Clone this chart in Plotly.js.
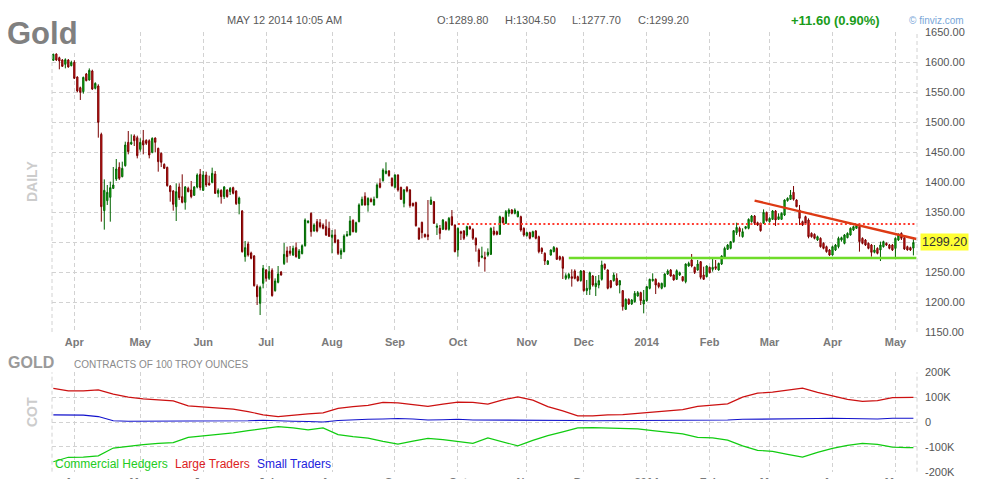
<!DOCTYPE html>
<html><head><meta charset="utf-8">
<script src="https://cdn.plot.ly/plotly-3.0.1.min.js"></script>
<style>html,body{margin:0;padding:0;background:#fff}#chart{width:988px;height:479px}</style>
</head><body><div id="chart"></div>
<script>
// ---- Daily OHLC (gold futures, ~Mar 20 2013 .. May 12 2014), one value per trading day ----
const openP = [
1602.8,1613.3,1607.2,1603.3,1596.1,1603.3,1593.9,1599.4,1575.0,1557.2,
1550.6,1580.0,1570.0,1585.0,1556.1,1560.0,1479.4,1352.2,1368.9,1374.4,
1389.4,1405.0,1424.4,1408.9,1427.2,1466.1,1463.3,1476.7,1473.9,1454.4,
1468.9,1469.4,1468.9,1449.4,1473.3,1456.1,1447.8,1429.4,1424.4,1393.3,
1385.0,1358.9,1391.7,1375.6,1366.1,1389.4,1386.7,1377.8,1391.7,1412.8,
1386.1,1411.7,1397.8,1399.4,1413.3,1381.1,1386.1,1375.6,1386.7,1383.9,
1390.6,1385.0,1363.9,1351.7,1275.6,1296.7,1281.7,1276.7,1226.1,1197.8,
1231.1,1253.3,1239.4,1252.8,1218.9,1232.8,1250.0,1263.9,1285.0,1285.0,
1278.3,1290.6,1272.8,1280.6,1293.9,1332.2,1347.8,1318.3,1333.9,1332.2,
1328.3,1325.6,1322.8,1307.8,1311.7,1303.3,1279.4,1283.9,1310.0,1311.7,
1336.1,1317.2,1333.9,1361.7,1376.1,1361.7,1371.1,1361.7,1373.9,1397.8,
1402.2,1414.4,1418.3,1406.1,1391.1,1411.7,1391.1,1364.4,1391.1,1386.7,
1364.4,1365.6,1322.8,1332.8,1312.8,1312.0,1362.8,1367.2,1324.4,1322.8,
1321.1,1332.8,1321.1,1342.2,1328.3,1286.7,1317.2,1318.3,1311.7,1325.6,
1321.1,1306.1,1286.7,1274.4,1274.4,1278.3,1279.4,1318.3,1317.2,1312.8,
1340.6,1331.1,1347.8,1353.3,1347.8,1342.2,1342.2,1322.8,1310.6,1315.6,
1308.9,1318.3,1308.9,1289.4,1281.1,1262.8,1278.3,1283.9,1289.4,1275.6,
1274.4,1239.4,1240.6,1242.2,1251.7,1242.2,1235.6,1251.7,1218.9,1221.1,
1243.3,1225.6,1228.3,1237.8,1262.8,1253.3,1235.6,1235.6,1239.4,1228.3,
1218.9,1187.8,1204.4,1196.7,1200.6,1210.0,1215.6,1196.7,1202.2,1222.8,
1235.6,1237.8,1231.1,1222.8,1225.6,1246.7,1253.3,1245.0,1237.8,1245.0,
1242.2,1233.9,1260.0,1270.0,1257.8,1253.3,1267.2,1245.0,1242.2,1257.8,
1254.4,1258.9,1253.3,1263.3,1274.4,1287.8,1289.4,1300.6,1315.6,1322.8,
1308.9,1322.8,1322.8,1333.9,1343.3,1332.2,1331.1,1331.1,1349.4,1333.9,
1337.8,1351.7,1337.8,1337.8,1345.0,1368.9,1371.1,1382.8,1370.0,1353.3,
1333.9,1342.2,1336.7,1314.4,1312.8,1303.3,1306.1,1297.8,1292.2,1286.7,
1278.3,1286.7,1292.2,1303.3,1297.8,1307.2,1311.7,1320.0,1322.8,1325.6,
1306.1,1303.3,1297.8,1295.0,1282.8,1289.4,1286.7,1292.2,1297.8,1295.0,
1295.0,1289.4,1303.3,1314.4,1307.2,1292.2,1290.6,1289.8];
const highP = [
1613.9,1614.4,1608.9,1605.0,1606.1,1605.0,1602.2,1602.8,1576.1,1558.9,
1575.6,1581.7,1589.4,1587.2,1566.1,1562.8,1482.2,1404.4,1395.0,1400.6,
1425.0,1438.3,1432.8,1433.9,1467.2,1485.0,1479.4,1479.4,1477.2,1472.8,
1486.7,1471.1,1471.1,1474.4,1474.4,1457.2,1449.4,1431.1,1425.6,1395.0,
1386.7,1397.8,1397.8,1412.8,1393.3,1392.2,1401.7,1393.3,1414.4,1421.7,
1418.3,1417.2,1410.6,1423.9,1418.3,1389.4,1387.8,1393.3,1387.8,1391.7,
1392.2,1386.1,1375.6,1353.3,1301.7,1300.6,1283.9,1278.3,1229.4,1227.2,
1261.7,1255.0,1260.0,1256.1,1239.4,1260.0,1251.7,1298.3,1292.2,1293.3,
1293.9,1299.4,1288.3,1296.1,1339.4,1336.1,1349.4,1331.1,1338.3,1338.3,
1331.1,1337.8,1333.9,1320.0,1321.1,1304.4,1289.4,1312.8,1318.3,1343.3,
1337.8,1333.9,1364.4,1375.6,1382.8,1374.4,1373.9,1375.6,1397.8,1406.1,
1422.8,1432.8,1420.0,1407.8,1412.8,1412.8,1392.2,1388.3,1393.3,1388.3,
1365.6,1367.2,1324.4,1333.9,1313.9,1370.0,1375.6,1368.3,1331.1,1328.3,
1338.3,1335.0,1341.7,1353.3,1329.4,1324.4,1318.9,1320.0,1327.2,1327.2,
1322.8,1307.8,1289.4,1292.2,1283.9,1289.4,1324.4,1325.6,1318.9,1343.9,
1342.2,1353.3,1356.1,1355.0,1356.1,1352.2,1343.9,1324.4,1317.2,1317.2,
1318.9,1320.0,1310.6,1291.1,1282.8,1270.0,1287.8,1293.3,1291.1,1277.2,
1276.7,1247.8,1248.9,1254.4,1254.4,1243.9,1253.3,1253.3,1236.7,1250.6,
1245.0,1243.3,1245.0,1268.9,1264.4,1254.4,1236.7,1248.9,1247.8,1236.7,
1220.0,1206.1,1206.1,1205.0,1218.3,1218.3,1217.2,1220.0,1226.7,1238.9,
1247.8,1239.4,1232.8,1232.2,1247.8,1254.4,1255.0,1246.1,1254.4,1250.6,
1243.3,1264.4,1267.2,1280.0,1258.9,1270.0,1268.3,1258.9,1261.1,1258.9,
1274.4,1270.0,1265.6,1277.8,1292.2,1296.7,1301.7,1320.0,1332.2,1325.6,
1322.8,1326.7,1339.4,1345.0,1345.0,1333.9,1332.2,1354.4,1350.6,1341.1,
1353.3,1353.3,1347.8,1349.4,1371.1,1374.4,1386.7,1393.3,1371.1,1361.7,
1335.6,1343.9,1339.4,1316.1,1314.4,1310.6,1307.8,1299.4,1293.9,1288.3,
1293.9,1296.7,1308.9,1308.9,1313.3,1316.1,1324.4,1327.2,1329.4,1328.3,
1307.8,1305.0,1299.4,1296.7,1295.0,1291.1,1300.6,1302.2,1299.4,1296.7,
1296.7,1307.8,1314.4,1316.1,1308.9,1293.9,1292.2,1304.5];
const lowP = [
1601.7,1601.7,1587.8,1591.7,1589.4,1590.6,1592.8,1571.7,1549.4,1536.7,
1547.2,1567.8,1568.9,1553.3,1554.4,1473.9,1333.9,1320.6,1361.7,1333.9,
1388.3,1401.7,1403.3,1407.8,1425.6,1446.1,1461.7,1460.0,1439.4,1450.6,
1446.1,1461.7,1439.4,1447.8,1449.4,1417.2,1424.9,1421.7,1392.2,1367.2,
1352.2,1335.0,1370.0,1364.4,1353.9,1382.8,1372.8,1376.7,1389.4,1386.1,
1385.0,1391.7,1393.9,1397.8,1380.0,1374.4,1363.9,1371.7,1373.9,1378.3,
1379.4,1361.7,1346.1,1282.2,1267.2,1275.6,1271.1,1225.6,1195.0,1178.3,
1222.8,1233.9,1236.7,1208.9,1217.2,1231.1,1243.9,1261.7,1265.6,1277.2,
1276.7,1273.9,1271.7,1279.4,1292.2,1331.1,1308.9,1317.2,1316.1,1322.8,
1321.1,1310.0,1308.9,1281.1,1297.8,1278.3,1271.7,1282.8,1309.4,1310.6,
1316.1,1315.0,1332.8,1360.6,1360.6,1350.6,1366.1,1360.6,1372.8,1389.4,
1400.6,1412.8,1408.9,1392.2,1389.4,1383.9,1370.0,1357.8,1382.8,1357.2,
1358.9,1325.6,1303.3,1306.1,1307.2,1303.0,1361.7,1330.0,1311.7,1304.4,
1320.0,1319.4,1318.9,1327.2,1282.8,1275.6,1303.3,1303.3,1308.9,1320.6,
1303.3,1283.9,1258.9,1272.8,1250.6,1275.6,1278.3,1310.6,1311.1,1311.7,
1331.1,1330.0,1342.2,1346.1,1346.1,1341.1,1317.2,1308.9,1308.9,1304.4,
1307.8,1304.4,1281.1,1280.0,1261.7,1261.7,1277.2,1282.8,1270.0,1268.9,
1238.3,1236.7,1237.8,1225.6,1237.8,1233.9,1233.9,1217.2,1211.7,1211.7,
1225.6,1210.0,1222.8,1235.6,1253.3,1221.1,1222.8,1233.9,1226.7,1214.4,
1185.6,1186.7,1195.0,1195.0,1198.9,1208.9,1195.0,1181.1,1200.6,1221.1,
1233.9,1213.3,1222.8,1221.1,1224.4,1245.0,1242.2,1235.6,1236.7,1243.3,
1233.9,1231.1,1258.9,1257.8,1246.7,1252.2,1237.8,1236.7,1241.1,1247.8,
1250.6,1253.3,1252.2,1261.7,1272.8,1286.7,1287.8,1298.9,1311.7,1308.9,
1307.2,1321.1,1321.1,1332.2,1328.3,1326.7,1317.2,1330.0,1333.9,1332.2,
1336.7,1326.7,1336.7,1336.7,1343.3,1367.2,1370.0,1368.9,1357.8,1328.3,
1326.7,1329.4,1306.1,1307.2,1304.4,1301.7,1290.6,1287.8,1282.2,1276.7,
1277.2,1285.0,1289.4,1300.6,1296.1,1306.1,1310.6,1318.3,1321.7,1283.9,
1296.1,1293.3,1287.8,1275.6,1281.1,1279.4,1268.3,1290.6,1293.3,1287.8,
1285.0,1272.8,1301.7,1303.3,1286.7,1285.6,1285.0,1277.7];
const closeP = [
1612.8,1603.3,1601.7,1592.8,1603.9,1591.7,1599.4,1572.8,1551.7,1549.4,
1574.4,1568.9,1586.1,1555.0,1564.4,1499.4,1358.9,1386.1,1382.8,1390.6,
1395.0,1421.7,1406.1,1422.8,1461.7,1450.6,1466.1,1468.9,1443.9,1466.1,
1461.7,1464.4,1445.0,1472.8,1466.1,1433.9,1432.8,1422.8,1393.9,1383.9,
1362.8,1383.9,1373.9,1366.1,1391.7,1383.9,1375.6,1391.7,1411.7,1390.6,
1411.7,1395.0,1395.0,1414.4,1381.1,1386.1,1375.6,1391.7,1375.6,1389.4,
1381.1,1363.9,1373.3,1283.9,1290.6,1278.3,1272.8,1227.2,1208.9,1224.4,
1256.1,1239.4,1250.6,1210.6,1235.0,1246.7,1245.0,1279.4,1275.6,1281.1,
1289.4,1275.6,1285.0,1293.9,1336.7,1335.0,1317.2,1328.3,1318.3,1325.6,
1322.8,1311.7,1309.4,1311.7,1299.4,1281.1,1285.6,1310.0,1312.8,1335.0,
1317.2,1332.2,1361.7,1371.1,1361.7,1372.8,1367.2,1371.1,1395.0,1391.1,
1420.0,1418.3,1410.6,1393.9,1411.7,1386.7,1371.1,1386.7,1385.0,1360.6,
1360.6,1327.2,1305.0,1315.6,1308.9,1309.0,1370.0,1331.1,1326.7,1314.4,
1336.7,1321.1,1339.4,1328.3,1283.9,1322.8,1314.4,1306.1,1325.6,1321.7,
1306.1,1295.0,1267.2,1276.7,1271.7,1282.8,1322.8,1312.8,1312.8,1342.2,
1332.2,1350.6,1353.3,1347.8,1353.3,1350.6,1320.0,1311.7,1315.6,1306.1,
1317.2,1306.1,1283.9,1283.9,1268.3,1268.3,1286.7,1291.1,1271.1,1271.1,
1256.1,1243.9,1246.1,1239.4,1239.4,1235.6,1251.7,1218.9,1222.8,1248.9,
1228.3,1231.1,1235.6,1261.7,1256.1,1222.8,1224.4,1245.0,1228.3,1235.6,
1192.2,1204.4,1196.7,1203.3,1214.4,1215.6,1202.2,1203.3,1225.6,1237.8,
1237.8,1228.3,1225.6,1231.1,1246.7,1251.7,1243.3,1236.7,1252.2,1248.9,
1235.6,1263.3,1264.4,1260.0,1248.9,1263.3,1241.1,1237.8,1260.0,1248.9,
1257.8,1256.1,1264.4,1276.7,1289.4,1295.0,1300.6,1318.9,1324.4,1317.2,
1317.2,1325.6,1337.8,1343.3,1331.1,1328.3,1318.9,1349.4,1335.6,1339.4,
1351.7,1336.7,1342.2,1347.8,1370.0,1372.8,1378.3,1371.1,1358.9,1339.4,
1328.3,1331.1,1308.9,1308.9,1306.1,1308.9,1292.2,1289.4,1283.9,1278.3,
1292.2,1295.0,1306.1,1307.2,1311.7,1314.4,1322.8,1325.6,1327.2,1300.6,
1297.8,1295.0,1289.4,1282.8,1286.7,1281.1,1295.0,1300.6,1295.0,1289.4,
1286.7,1306.1,1311.7,1306.1,1288.3,1286.7,1286.7,1299.2];

// month tick positions (trading-day index of first session of each month) and labels
const monthTickIdx  = [7, 29, 50, 71, 93, 114, 135, 158, 177, 198, 219, 239, 260, 281];
const monthTickText = ['Apr','May','Jun','Jul','Aug','Sep','Oct','Nov','Dec','2014','Feb','Mar','Apr','May'];
const priceTicks = [1150,1200,1250,1300,1350,1400,1450,1500,1550,1600,1650];
const priceTickText = ['1150.00','1200.00','1250.00','','1350.00','1400.00','1450.00','1500.00','1550.00','1600.00','1650.00'];

// ---- COT net positions (thousands of contracts), weekly, every 5 sessions + last session ----
const commercialHedgers = [
-160,-142,-141,-136,-105,-97,-91,-86,-83,-62,
-57,-52,-44,-35,-26,-19,-24,-32,-24,-51,
-59,-65,-78,-89,-77,-66,-71,-80,-86,-64,
-81,-96,-74,-55,-40,-24,-23,-25,-25,-28,
-35,-41,-48,-62,-64,-73,-96,-114,-118,-130,
-141,-122,-106,-94,-86,-90,-101,-103,-103];
const largeTraders = [
135,125,125,129,112,100,93,90,85,65,
61,58,52,42,29,22,29,33,37,55,
62,67,79,77,70,63,72,80,79,72,
89,101,88,62,45,25,25,29,30,35,
42,47,50,63,67,73,100,116,120,128,
136,119,106,91,83,86,98,99,99];
const smallTraders = [
29,29,28,22,5,3,3,4,6,6,
4,3,4,5,7,4,3,2,0,6,
9,11,12,14,12,8,9,11,8,8,
9,9,8,8,7,6,5,5,5,6,
8,5,5,5,6,8,11,11,11,12,
13,14,15,13,12,12,15,15,15];
const cotTicks = [-200,-100,0,100,200];
const cotTickText = ['-200K','-100K','0','100K','200K'];

// ---- drawn study lines (index, price) ----
const trendIdx = [234, 288];      const trendPrice = [1369, 1305];
const resistIdx = [135, 288];     const resistPrice = [1330, 1330];
const supportIdx = [172, 288];    const supportPrice = [1273.5, 1273.5];
const lastClose = 1299.2;

// ---------------------------------------------------------------
const dayIdx = openP.map((_, i) => i);
const lastIdx = dayIdx.length - 1;
const cotIdx = largeTraders.map((_, k) => Math.min(5 * k, lastIdx));

const W = 988, H = 479, ML = 52, MR = 71;
const px = x => (x - ML) / (W - ML - MR);
const py = y => 1 - y / H;
const FONT = 'Arial, "Liberation Sans", sans-serif';
const GRID = '#d2d2d2';
const DASH = '4px,3px';

const traces = [
  {type:'scatter', mode:'lines', x: resistIdx, y: resistPrice, xaxis:'x', yaxis:'y',
   line:{color:'#ff3b2f', width:2.2, dash:'2px,2.5px'}, hoverinfo:'skip'},
  {type:'candlestick', x: dayIdx, open: openP, high: highP, low: lowP, close: closeP,
   xaxis:'x', yaxis:'y', whiskerwidth:0, hoverinfo:'skip',
   increasing:{line:{color:'#006400', width:1}, fillcolor:'#12cc12'},
   decreasing:{line:{color:'#7a0000', width:1}, fillcolor:'#e81818'}},
  {type:'scatter', mode:'lines', x: supportIdx, y: supportPrice, xaxis:'x', yaxis:'y',
   line:{color:'#6fdc2a', width:2.5}, hoverinfo:'skip'},
  {type:'scatter', mode:'lines', x: trendIdx, y: trendPrice, xaxis:'x', yaxis:'y',
   line:{color:'#dd3a14', width:2.4}, hoverinfo:'skip'},
  {type:'scatter', mode:'lines', x: cotIdx, y: largeTraders, xaxis:'x2', yaxis:'y2',
   line:{color:'#cc1111', width:1.2}, hoverinfo:'skip'},
  {type:'scatter', mode:'lines', x: cotIdx, y: smallTraders, xaxis:'x2', yaxis:'y2',
   line:{color:'#1111cc', width:1.2}, hoverinfo:'skip'},
  {type:'scatter', mode:'lines', x: cotIdx, y: commercialHedgers, xaxis:'x2', yaxis:'y2',
   line:{color:'#11cc11', width:1.2}, hoverinfo:'skip'}
];

const xCommon = {
  range:[-0.45, 288.2], tickvals: monthTickIdx, ticktext: monthTickText,
  showgrid:true, gridcolor:GRID, griddash:DASH, gridwidth:1,
  zeroline:false, showline:false, ticks:'', ticklabelstandoff:2,
  tickfont:{family:FONT, size:11, color:'#7a7a7a', weight:'bold'}, fixedrange:true
};
const yCommon = {
  side:'right', showgrid:true, gridcolor:GRID, griddash:DASH, gridwidth:1,
  zeroline:false, showline:false, ticks:'', ticklabelstandoff:7,
  tickfont:{family:FONT, size:11, color:'#555'}, fixedrange:true
};

function ann(text, x, y, size, color, opts) {
  return Object.assign({text:text, xref:'paper', yref:'paper', x:px(x), y:py(y),
    xanchor:'left', yanchor:'middle', showarrow:false,
    font:{family:FONT, size:size, color:color}}, opts || {});
}

const annotations = [
  ann('<b>Gold</b>', 6, 33, 31, '#808080', {bgcolor:'#ffffff', borderpad:0}),
  ann('MAY 12 2014 10:05 AM', 225, 20, 11, '#5a5a5a'),
  ann('O:1289.80', 435, 20, 11, '#5a5a5a'),
  ann('H:1304.50', 503, 20, 11, '#5a5a5a'),
  ann('L:1277.70', 570, 20, 11, '#5a5a5a'),
  ann('C:1299.20', 636, 20, 11, '#5a5a5a'),
  ann('<b>+11.60 (0.90%)</b>', 789, 20, 13, '#1a9c1a'),
  ann('\u00a9 finviz.com', 907, 20, 10, '#79a6d8'),
  ann('<b>DAILY</b>', 32, 182, 14, '#cccccc', {xanchor:'center', textangle:-90}),
  ann('<b>COT</b>', 32, 412, 14, '#cccccc', {xanchor:'center', textangle:-90}),
  ann('<b>GOLD</b>', 6, 362, 16, '#9a9a9a'),
  ann('CONTRACTS OF 100 TROY OUNCES', 72, 364, 10, '#8a8a8a'),
  ann('Commercial Hedgers', 53, 464, 12, '#22cc22'),
  ann('Large Traders', 173, 464, 12, '#dd2222'),
  ann('Small Traders', 255, 464, 12, '#2222dd'),
  {text: lastClose.toFixed(2), xref:'paper', yref:'y', x:px(944.5), y:lastClose,
   xanchor:'center', yanchor:'middle', showarrow:false, bgcolor:'#ffff33', borderpad:1,
   font:{family:FONT, size:12.5, color:'#333'}}
];

const shapes = [
  {type:'line', xref:'paper', yref:'paper', x0:0, x1:0, y0:py(332), y1:py(32), line:{color:GRID, width:1, dash:DASH}},
  {type:'line', xref:'paper', yref:'paper', x0:1, x1:1, y0:py(332), y1:py(32), line:{color:GRID, width:1, dash:DASH}},
  {type:'line', xref:'paper', yref:'paper', x0:0, x1:0, y0:py(471.7), y1:py(372.3), line:{color:GRID, width:1, dash:DASH}},
  {type:'line', xref:'paper', yref:'paper', x0:1, x1:1, y0:py(471.7), y1:py(372.3), line:{color:GRID, width:1, dash:DASH}}
];

const layout = {
  width:W, height:H, margin:{l:ML, r:MR, t:0, b:0, pad:0},
  paper_bgcolor:'#ffffff', plot_bgcolor:'#ffffff', showlegend:false,
  boxgap:0.4, dragmode:false, hovermode:false,
  xaxis: Object.assign({}, xCommon, {anchor:'y', rangeslider:{visible:false}}),
  yaxis: Object.assign({}, yCommon, {domain:[py(332), py(32)], range:[1150,1650],
          tickvals: priceTicks, ticktext: priceTickText}),
  xaxis2: Object.assign({}, xCommon, {anchor:'y2', matches:'x'}),
  yaxis2: Object.assign({}, yCommon, {domain:[py(471.7), py(372.3)], range:[-200,200],
          tickvals: cotTicks, ticktext: cotTickText}),
  annotations: annotations, shapes: shapes
};

Plotly.newPlot('chart', traces, layout, {staticPlot:true, displayModeBar:false});
</script>
</body></html>
